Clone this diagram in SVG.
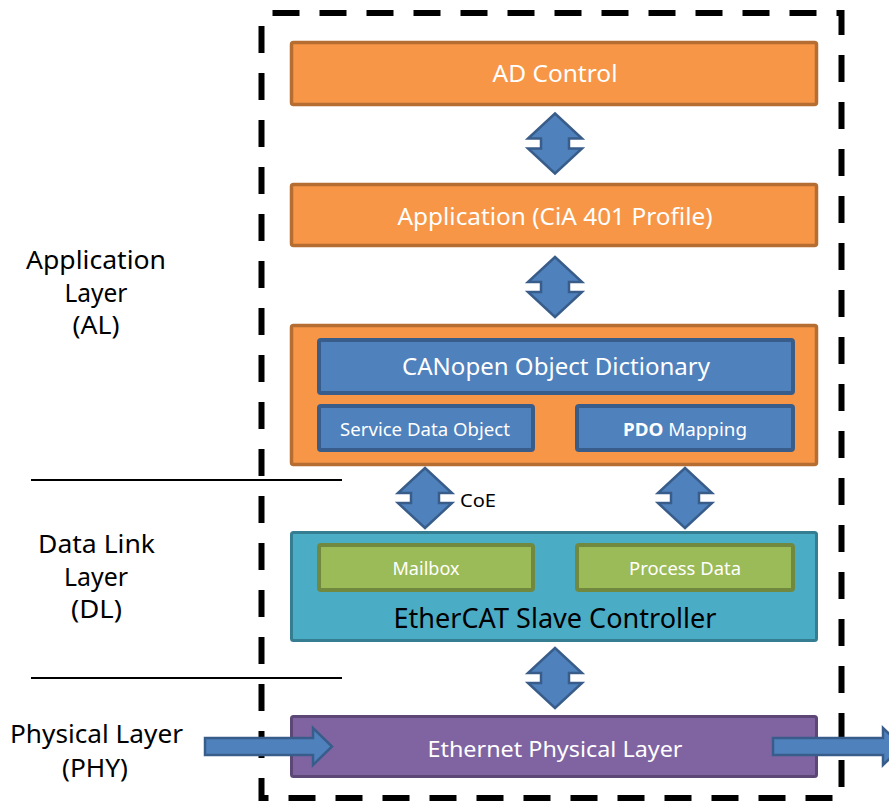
<svg xmlns="http://www.w3.org/2000/svg" width="889" height="804" viewBox="0 0 889 804">
<style>
text{font-family:"Noto Sans","Open Sans","Liberation Sans",sans-serif;}
.org{fill:#f79646;stroke:#b66d31;stroke-width:3.5;}
.blu{fill:#4f81bd;stroke:#385d8a;stroke-width:4;}
.esc{fill:#4bacc6;stroke:#357d91;stroke-width:3;}
.grn{fill:#9bbb59;stroke:#71893f;stroke-width:4;}
.pur{fill:#8064a2;stroke:#5c4776;stroke-width:3;}
.arr{fill:#4f81bd;stroke:#385d8a;stroke-width:2.5;stroke-linejoin:miter;}
.w{fill:#ffffff;text-anchor:middle;}
.k{fill:#000000;text-anchor:middle;}
.lbl{fill:#000000;text-anchor:middle;font-size:25px;}
</style>
<defs>
<path id="ud" d="M0,-30 L27,-5 L14,-5 L14,5 L27,5 L0,30 L-27,5 L-14,5 L-14,-5 L-27,-5 Z"/>
</defs>
<rect width="889" height="804" fill="#ffffff"/>

<g id="layer-labels">
<text class="lbl" x="96" y="269" textLength="140" lengthAdjust="spacingAndGlyphs">Application</text>
<text class="lbl" x="96" y="302" textLength="63" lengthAdjust="spacingAndGlyphs">Layer</text>
<text class="lbl" x="96" y="334" textLength="47" lengthAdjust="spacingAndGlyphs">(AL)</text>
<text class="lbl" x="96.5" y="553" textLength="117" lengthAdjust="spacingAndGlyphs">Data Link</text>
<text class="lbl" x="96" y="586" textLength="64" lengthAdjust="spacingAndGlyphs">Layer</text>
<text class="lbl" x="96.5" y="618" textLength="51" lengthAdjust="spacingAndGlyphs">(DL)</text>
<text class="lbl" x="96.5" y="743" textLength="173" lengthAdjust="spacingAndGlyphs">Physical Layer</text>
<text class="lbl" x="95" y="777" textLength="66" lengthAdjust="spacingAndGlyphs">(PHY)</text>
</g>

<g id="separators" stroke="#000" stroke-width="2">
<line x1="31" y1="480" x2="342" y2="480"/>
<line x1="31" y1="678" x2="342" y2="678"/>
</g>

<g id="ad-control">
<rect class="org" x="291.5" y="42.5" width="525" height="62" rx="2"/>
<text class="w" x="555" y="82" font-size="24" textLength="125" lengthAdjust="spacingAndGlyphs">AD Control</text>
</g>

<g id="application">
<rect class="org" x="291.5" y="184.5" width="525" height="61" rx="2"/>
<text class="w" x="555" y="225" font-size="23" textLength="315" lengthAdjust="spacingAndGlyphs">Application (CiA 401 Profile)</text>
</g>

<g id="canopen">
<rect class="org" x="291.5" y="325.5" width="525" height="139" rx="2"/>
<g id="object-dictionary">
<rect class="blu" x="319" y="340" width="474" height="53" rx="2"/>
<text class="w" x="556" y="375" font-size="24" textLength="308" lengthAdjust="spacingAndGlyphs">CANopen Object Dictionary</text>
</g>
<g id="sdo">
<rect class="blu" x="319" y="406" width="214" height="44" rx="2"/>
<text class="w" x="425" y="436" font-size="18" textLength="170" lengthAdjust="spacingAndGlyphs">Service Data Object</text>
</g>
<g id="pdo">
<rect class="blu" x="577" y="406" width="216" height="44" rx="2"/>
<text class="w" x="685" y="436" font-size="18" textLength="124" lengthAdjust="spacingAndGlyphs"><tspan font-weight="bold">PDO</tspan> Mapping</text>
</g>
</g>

<g id="esc">
<rect class="esc" x="291.5" y="532.5" width="525" height="108" rx="2"/>
<g id="mailbox">
<rect class="grn" x="319" y="545" width="214" height="45" rx="2"/>
<text class="w" x="426" y="575" font-size="18" textLength="67" lengthAdjust="spacingAndGlyphs">Mailbox</text>
</g>
<g id="process-data">
<rect class="grn" x="577" y="545" width="216" height="45" rx="2"/>
<text class="w" x="685" y="575" font-size="18" textLength="112" lengthAdjust="spacingAndGlyphs">Process Data</text>
</g>
<text class="k" x="555" y="628" font-size="27" textLength="323" lengthAdjust="spacingAndGlyphs">EtherCAT Slave Controller</text>
</g>

<g id="phy">
<rect class="pur" x="291.5" y="716.5" width="525" height="60" rx="2"/>
<text class="w" x="555" y="757" font-size="22" textLength="255" lengthAdjust="spacingAndGlyphs">Ethernet Physical Layer</text>
</g>

<g id="boundary">
<rect x="261.5" y="13" width="580" height="785" fill="none" stroke="#000" stroke-width="6" stroke-dasharray="27 20" stroke-dashoffset="-11"/>
</g>

<g id="connectors">
<use href="#ud" class="arr" x="555" y="143.5"/>
<use href="#ud" class="arr" x="555" y="287"/>
<use href="#ud" class="arr" x="425" y="498"/>
<use href="#ud" class="arr" x="685" y="498"/>
<use href="#ud" class="arr" x="555" y="678"/>
<path class="arr" d="M205,738 L313,738 L313,728 L332,746.5 L313,765 L313,755 L205,755 Z"/>
<path class="arr" d="M773,738 L883,738 L883,728 L902,746.5 L883,765 L883,755 L773,755 Z"/>
<text x="460" y="507" font-size="18" fill="#000" textLength="36" lengthAdjust="spacingAndGlyphs">CoE</text>
</g>
</svg>
